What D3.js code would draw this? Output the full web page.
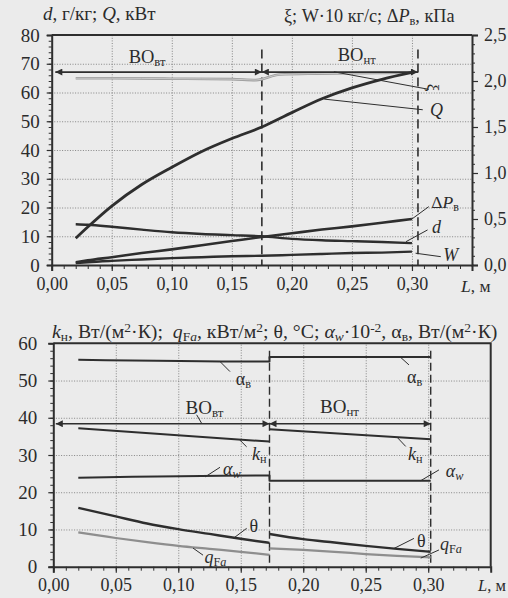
<!DOCTYPE html>
<meta charset="utf-8">
<script src="https://d3js.org/d3.v7.min.js"></script>
<style>
  body { margin: 0; background: #ebebeb; }
  svg text { font-family: "Liberation Serif", "DejaVu Serif", serif; fill: #2b2b2b; }
</style>
<div id="my_dataviz"></div>
<script>

// ---------- upper chart data ----------
var L_top = [0.02, 0.03, 0.05, 0.075, 0.10, 0.125, 0.15, 0.175, 0.20, 0.225, 0.25, 0.275, 0.30];
var Q     = [9.3, 13.2, 20.5, 28.0, 34.0, 39.5, 44.0, 48.0, 53.0, 57.8, 61.6, 64.6, 67.0];   // кВт
var dVal  = [14.2, 14.0, 13.3, 12.3, 11.4, 10.8, 10.4, 10.0, 9.1, 8.6, 8.3, 8.0, 7.6];     // г/кг
var dP    = [0.03, 0.05, 0.085, 0.13, 0.17, 0.215, 0.26, 0.305, 0.345, 0.385, 0.42, 0.46, 0.50]; // кПа
var W     = [0.02, 0.03, 0.045, 0.06, 0.075, 0.085, 0.095, 0.10, 0.11, 0.12, 0.13, 0.135, 0.145];
var L_xi  = [0.02, 0.05, 0.10, 0.15, 0.17, 0.19, 0.22, 0.25, 0.30];
var xi    = [2.03, 2.03, 2.025, 2.02, 2.01, 2.07, 2.08, 2.085, 2.09];
var zonesTop = [0.175, 0.305];

// ---------- lower chart data ----------
var L_b1 = [0.02, 0.05, 0.075, 0.10, 0.125, 0.15, 0.173];
var L_b2 = [0.173, 0.20, 0.225, 0.25, 0.275, 0.302];
var theta1 = [15.8, 13.5, 11.6, 10.1, 8.8, 7.5, 6.4];
var theta2 = [8.8, 7.4, 6.5, 5.6, 4.8, 4.0];
var qFa1   = [9.2, 7.7, 6.6, 5.6, 4.8, 4.0, 3.2];
var qFa2   = [4.9, 4.5, 4.0, 3.4, 2.9, 2.5];
var L_f1 = [0.02, 0.173];
var L_f2 = [0.173, 0.302];
var alphaV1 = [55.6, 55.1], alphaV2 = [56.3, 56.3];
var kN1     = [37.2, 33.6], kN2     = [36.9, 34.2];
var alphaW1 = [23.9, 24.5], alphaW2 = [23.1, 23.1];
var zonesBot = [0.173, 0.302];

// ---------- ticks ----------
var xTicks = [0, 0.05, 0.10, 0.15, 0.20, 0.25, 0.30];
var xTickLabels = ["0,00", "0,05", "0,10", "0,15", "0,20", "0,25", "0,30"];
var yTopTicks = [0, 10, 20, 30, 40, 50, 60, 70, 80];
var yRightTicks = [0, 0.5, 1.0, 1.5, 2.0, 2.5];
var yRightLabels = ["0,0", "0,5", "1,0", "1,5", "2,0", "2,5"];
var yBotTicks = [0, 10, 20, 30, 40, 50, 60];

var ink = "#2e2e2e";
var serif = "Liberation Serif";

var svg = d3.select("#my_dataviz")
  .append("svg")
  .attr("width", 508)
  .attr("height", 598)
  .attr("font-family", serif);

svg.append("rect").attr("width", 508).attr("height", 598).attr("fill", "#ebebeb");

// arrow markers
var defs = svg.append("defs");
defs.append("marker").attr("id", "arr")
  .attr("viewBox", "0 0 10 10").attr("refX", 10).attr("refY", 5)
  .attr("markerWidth", 9).attr("markerHeight", 7).attr("markerUnits", "userSpaceOnUse")
  .attr("orient", "auto-start-reverse")
  .append("path").attr("d", "M0,0L10,5L0,10z").attr("fill", ink);

// helper for text with italic / sub / sup parts
function label(g, x, y, parts, size, anchor) {
  var t = g.append("text").attr("x", x).attr("y", y)
    .attr("font-family", serif)
    .attr("font-size", size).attr("text-anchor", anchor || "start");
  parts.forEach(function (p) {
    var s = t.append("tspan").text(p.t);
    if (p.i) s.attr("font-style", "italic");
    if (p.sub) s.attr("font-size", size * 0.68).attr("baseline-shift", "-22%");
    if (p.sup) s.attr("font-size", size * 0.68).attr("baseline-shift", "45%");
  });
  return t;
}

function styleAxis(g, w, fs) {
  g.attr("font-family", serif);
  g.select(".domain").attr("stroke", ink).attr("stroke-width", w);
  g.selectAll(".tick line").attr("stroke", ink).attr("stroke-width", 1.2);
  g.selectAll(".tick text").attr("fill", ink).attr("font-family", serif).attr("font-size", fs);
}

function grid(g, x, y, xt, yt) {
  var gx = g.append("g").attr("transform", "translate(0," + y.range()[0] + ")")
    .call(d3.axisBottom(x).tickValues(xt).tickSize(-(y.range()[0] - y.range()[1])).tickFormat(""));
  var gy = g.append("g").attr("transform", "translate(" + x.range()[0] + ",0)")
    .call(d3.axisLeft(y).tickValues(yt).tickSize(-(x.range()[1] - x.range()[0])).tickFormat(""));
  [gx, gy].forEach(function (a) {
    a.select(".domain").remove();
    a.selectAll(".tick line").attr("stroke", "#7a7a7a").attr("stroke-width", 0.9).attr("stroke-dasharray", "1,1.6");
  });
}

function curve(g, xs, ys, sx, sy, color, w) {
  var pts = xs.map(function (v, i) { return [v, ys[i]]; });
  g.append("path").datum(pts)
    .attr("fill", "none").attr("stroke", color).attr("stroke-width", w)
    .attr("stroke-linejoin", "round")
    .attr("d", d3.line().x(function (p) { return sx(p[0]); }).y(function (p) { return sy(p[1]); })
      .curve(d3.curveMonotoneX));
}

function leader(g, sx, sy, a) {
  g.append("line")
    .attr("x1", sx(a[0])).attr("y1", sy(a[1])).attr("x2", sx(a[2])).attr("y2", sy(a[3]))
    .attr("stroke", ink).attr("stroke-width", 1);
}

function minorTicks(sel, axisFn, scale, vals, size) {
  sel.call(axisFn(scale).tickValues(vals).tickSize(size).tickFormat(""));
  sel.select(".domain").remove();
  sel.selectAll(".tick line").attr("stroke", ink).attr("stroke-width", 1);
}

// =================== UPPER CHART ===================
var x1 = d3.scaleLinear().domain([0, 0.35]).range([51.7, 472]);
var y1 = d3.scaleLinear().domain([0, 80]).range([265, 35]);
var y1r = d3.scaleLinear().domain([0, 2.5]).range([265, 35]);
var upper = svg.append("g");

grid(upper, x1, y1, xTicks.slice(1), yTopTicks.slice(1, -1));

// minor ticks
minorTicks(upper.append("g").attr("transform", "translate(" + x1(0) + ",0)"), d3.axisLeft, y1, d3.range(0, 81, 2), 3);
minorTicks(upper.append("g").attr("transform", "translate(0," + y1(0) + ")"), d3.axisBottom, x1, d3.range(0, 0.351, 0.01), 4);
minorTicks(upper.append("g").attr("transform", "translate(" + x1(0.35) + ",0)"), d3.axisRight, y1r, d3.range(0, 2.51, 0.1), 3);

var ax1 = upper.append("g").attr("transform", "translate(0," + y1(0) + ")")
  .call(d3.axisBottom(x1).tickValues(xTicks).tickSize(6).tickPadding(6)
    .tickFormat(function (d, i) { return xTickLabels[i]; }));
styleAxis(ax1, 2, 18);
var ay1 = upper.append("g").attr("transform", "translate(" + x1(0) + ",0)")
  .call(d3.axisLeft(y1).tickValues(yTopTicks).tickSize(5).tickPadding(7));
styleAxis(ay1, 2, 19);
var ay1r = upper.append("g").attr("transform", "translate(" + x1(0.35) + ",0)")
  .call(d3.axisRight(y1r).tickValues(yRightTicks).tickSize(6).tickPadding(6)
    .tickFormat(function (d, i) { return yRightLabels[i]; }));
styleAxis(ay1r, 2, 18);
upper.append("line").attr("x1", x1(0)).attr("x2", x1(0.35)).attr("y1", y1(80)).attr("y2", y1(80))
  .attr("stroke", ink).attr("stroke-width", 2.2);

// zone borders
zonesTop.forEach(function (z) {
  upper.append("line").attr("x1", x1(z)).attr("x2", x1(z)).attr("y1", y1(75)).attr("y2", y1(0))
    .attr("stroke", ink).attr("stroke-width", 1.6).attr("stroke-dasharray", "9,5");
});

// curves
curve(upper, L_xi, xi, x1, y1r, "#9c9c9c", 2.6);
curve(upper, L_xi, xi, x1, y1r, "#d6d6d6", 0.8);
curve(upper, L_top, Q, x1, y1, ink, 2.8);
curve(upper, L_top, dVal, x1, y1, ink, 2.4);
curve(upper, L_top, dP, x1, y1r, ink, 2.6);
curve(upper, L_top, W, x1, y1r, ink, 2.4);

// zone arrows
[[0.003, zonesTop[0]], [zonesTop[0], zonesTop[1]]].forEach(function (r) {
  upper.append("line").attr("x1", x1(r[0])).attr("x2", x1(r[1])).attr("y1", y1(67.1)).attr("y2", y1(67.1))
    .attr("stroke", ink).attr("stroke-width", 1.8)
    .attr("marker-start", "url(#arr)").attr("marker-end", "url(#arr)");
});
label(upper, x1(0.0794), y1(70.3), [{ t: "BO" }, { t: "вт", sub: true }], 18.5, "middle");
label(upper, x1(0.254), y1(70.8), [{ t: "BO" }, { t: "нт", sub: true }], 18.5, "middle");

// leaders and curve names
leader(upper, x1, y1, [0.235, 67.2, 0.314, 61.1]);
label(upper, 0, 0, [{ t: "ξ" }], 17, "middle")
  .attr("transform", "translate(" + x1(0.3175) + "," + y1(61.7) + ") rotate(90)")
  .attr("dy", "0.35em");
leader(upper, x1, y1, [0.227, 57.7, 0.309, 54.0]);
label(upper, x1(0.315), y1(51.8), [{ t: "Q", i: true }], 18);
leader(upper, x1, y1, [0.299, 15.7, 0.314, 20.3]);
label(upper, x1(0.316), y1(19.8), [{ t: "Δ" }, { t: "P", i: true }, { t: "в", sub: true }], 17.5);
leader(upper, x1, y1, [0.295, 8.1, 0.313, 12.2]);
label(upper, x1(0.3166), y1(11.1), [{ t: "d", i: true }], 18);
leader(upper, x1, y1, [0.303, 4.1, 0.324, 2.9]);
label(upper, x1(0.326), y1(1.4), [{ t: "W", i: true }], 18);

// axis titles
label(upper, 43, 20, [{ t: "d", i: true }, { t: ", г/кг; " }, { t: "Q", i: true }, { t: ", кВт" }], 19);
label(upper, 284, 22, [{ t: "ξ; W·10 кг/с; Δ" }, { t: "P", i: true }, { t: "в", sub: true }, { t: ", кПа" }], 18.2);
label(upper, 461, 292, [{ t: "L", i: true }, { t: ", м" }], 17.5);

// =================== LOWER CHART ===================
var x2 = d3.scaleLinear().domain([0, 0.35]).range([53.3, 490.7]);
var y2 = d3.scaleLinear().domain([0, 60]).range([566.7, 343.3]);
var lower = svg.append("g");

grid(lower, x2, y2, xTicks.slice(1), yBotTicks.slice(1, -1));
minorTicks(lower.append("g").attr("transform", "translate(" + x2(0) + ",0)"), d3.axisLeft, y2, d3.range(0, 61, 2), 3);
minorTicks(lower.append("g").attr("transform", "translate(0," + y2(0) + ")"), d3.axisBottom, x2, d3.range(0, 0.351, 0.01), 4);

var ax2 = lower.append("g").attr("transform", "translate(0," + y2(0) + ")")
  .call(d3.axisBottom(x2).tickValues(xTicks).tickSize(6).tickPadding(6)
    .tickFormat(function (d, i) { return xTickLabels[i]; }));
styleAxis(ax2, 2, 18);
var ay2 = lower.append("g").attr("transform", "translate(" + x2(0) + ",0)")
  .call(d3.axisLeft(y2).tickValues(yBotTicks).tickSize(5).tickPadding(11));
styleAxis(ay2, 2, 19);
lower.append("path")
  .attr("d", "M" + x2(0) + "," + y2(60) + "H" + x2(0.35) + "V" + y2(0))
  .attr("fill", "none").attr("stroke", ink).attr("stroke-width", 2);

zonesBot.forEach(function (z) {
  lower.append("line").attr("x1", x2(z)).attr("x2", x2(z)).attr("y1", y2(58)).attr("y2", y2(0))
    .attr("stroke", ink).attr("stroke-width", 1.4).attr("stroke-dasharray", "8,4");
});

// series (two zones each)
curve(lower, L_f1.concat(L_f2), alphaV1.concat(alphaV2), x2, y2, ink, 2);
curve(lower, L_f1, kN1, x2, y2, ink, 2);
curve(lower, L_f2, kN2, x2, y2, ink, 2);
curve(lower, L_f1.concat(L_f2), alphaW1.concat(alphaW2), x2, y2, ink, 2);
curve(lower, L_b1, theta1, x2, y2, ink, 2.4);
curve(lower, L_b2, theta2, x2, y2, ink, 2.4);
curve(lower, L_b1, qFa1, x2, y2, "#8e8e8e", 2.2);
curve(lower, L_b2, qFa2, x2, y2, "#8e8e8e", 2.2);

[[0.002, zonesBot[0]], [zonesBot[0], zonesBot[1]]].forEach(function (r) {
  lower.append("line").attr("x1", x2(r[0])).attr("x2", x2(r[1])).attr("y1", y2(38.4)).attr("y2", y2(38.4))
    .attr("stroke", ink).attr("stroke-width", 1.6)
    .attr("marker-start", "url(#arr)").attr("marker-end", "url(#arr)");
});
label(lower, x2(0.121), y2(41.0), [{ t: "BO" }, { t: "вт", sub: true }], 19, "middle");
leader(lower, x2, y2, [0.1147, 40.8, 0.1187, 38.5]);
label(lower, x2(0.229), y2(41.2), [{ t: "BO" }, { t: "нт", sub: true }], 19, "middle");

leader(lower, x2, y2, [0.1334, 55.1, 0.1414, 52.4]);
label(lower, x2(0.146), y2(48.8), [{ t: "α" }, { t: "в", sub: true }], 18);
leader(lower, x2, y2, [0.278, 56.2, 0.2846, 54.2]);
label(lower, x2(0.283), y2(49.4), [{ t: "α" }, { t: "в", sub: true }], 18);
leader(lower, x2, y2, [0.149, 34.1, 0.1547, 32.2]);
label(lower, x2(0.159), y2(28.7), [{ t: "k", i: true }, { t: "н", sub: true }], 18);
leader(lower, x2, y2, [0.275, 34.8, 0.282, 32.3]);
label(lower, x2(0.2838), y2(28.7), [{ t: "k", i: true }, { t: "н", sub: true }], 18);
leader(lower, x2, y2, [0.1214, 24.1, 0.1334, 26.7]);
label(lower, x2(0.1358), y2(24.7), [{ t: "α", i: true }, { t: "w", sub: true, i: true }], 18);
leader(lower, x2, y2, [0.294, 23.1, 0.3086, 26.0]);
label(lower, x2(0.314), y2(24.1), [{ t: "α", i: true }, { t: "w", sub: true, i: true }], 18);
leader(lower, x2, y2, [0.144, 7.6, 0.1547, 10.3]);
label(lower, x2(0.157), y2(9.3), [{ t: "θ" }], 18);
leader(lower, x2, y2, [0.2726, 4.9, 0.2886, 7.6]);
label(lower, x2(0.291), y2(5.3), [{ t: "θ" }], 18);
leader(lower, x2, y2, [0.1118, 5.0, 0.1198, 3.1]);
label(lower, x2(0.121), y2(1.0), [{ t: "q", i: true }, { t: "F", sub: true }, { t: "a", sub: true, i: true }], 18);
leader(lower, x2, y2, [0.294, 2.3, 0.3086, 4.5]);
label(lower, x2(0.3094), y2(4.5), [{ t: "q", i: true }, { t: "F", sub: true }, { t: "a", sub: true, i: true }], 18);

label(lower, 52, 338, [
  { t: "k", i: true }, { t: "н", sub: true }, { t: ", Вт/(м" }, { t: "2", sup: true }, { t: "·К);\u00a0\u00a0" },
  { t: "q", i: true }, { t: "F", sub: true }, { t: "a", sub: true, i: true }, { t: ", кВт/м" }, { t: "2", sup: true },
  { t: "; θ, °C; " }, { t: "α", i: true }, { t: "w", sub: true, i: true }, { t: "·10" }, { t: "-2", sup: true },
  { t: ", α" }, { t: "в", sub: true }, { t: ", Вт/(м" }, { t: "2", sup: true }, { t: "·К)" }
], 19.8);
label(lower, 478, 591, [{ t: "L", i: true }, { t: ", м" }], 16.5);

</script>
